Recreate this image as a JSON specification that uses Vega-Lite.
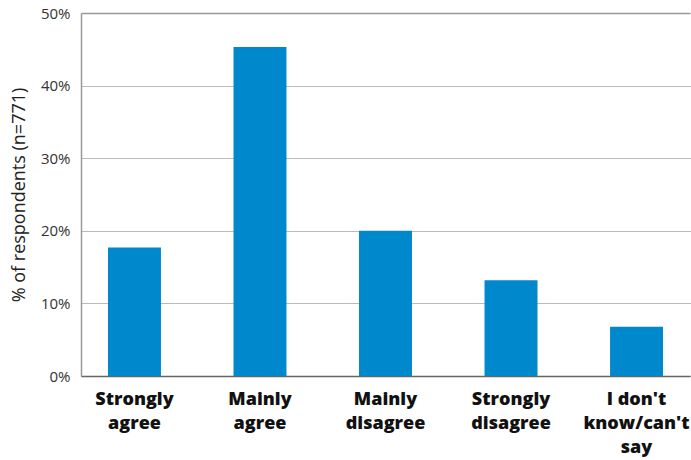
{
  "$schema": "https://vega.github.io/schema/vega-lite/v6.json",
  "width": 609,
  "height": 363,
  "autosize": {"type": "none"},
  "padding": {"left": 81, "top": 13, "right": 1, "bottom": 84},
  "background": "white",
  "config": {
    "font": "Open Sans",
    "view": {"stroke": null}
  },
  "data": {
    "values": [
      {"response": "Strongly|agree", "share": 0.177},
      {"response": "Mainly|agree", "share": 0.453},
      {"response": "Mainly|disagree", "share": 0.200},
      {"response": "Strongly|disagree", "share": 0.132},
      {"response": "I don't|know/can't|say", "share": 0.068}
    ]
  },
  "mark": {"type": "bar", "color": "#0088cc"},
  "encoding": {
    "x": {
      "field": "response",
      "type": "nominal",
      "sort": null,
      "scale": {"paddingInner": 0.578, "paddingOuter": 0.215},
      "axis": {
        "title": null,
        "labelAngle": 0,
        "labelExpr": "split(datum.label, '|')",
        "labelFont": "Open Sans",
        "labelFontWeight": 800,
        "labelFontSize": 18,
        "labelColor": "#111111",
        "labelLineHeight": 24,
        "labelPadding": 14,
        "ticks": false,
        "domainColor": "#666666",
        "domainWidth": 1.5,
        "labelLimit": 200
      }
    },
    "y": {
      "field": "share",
      "type": "quantitative",
      "scale": {"domain": [0, 0.5], "nice": false},
      "axis": {
        "title": "% of respondents (n=771)",
        "titleFont": "Open Sans",
        "titleFontWeight": "normal",
        "titleFontSize": 18,
        "titleColor": "#222222",
        "titlePadding": 12,
        "format": ".0%",
        "values": [0, 0.1, 0.2, 0.3, 0.4, 0.5],
        "labelFont": "Open Sans",
        "labelFontSize": 15,
        "labelColor": "#333333",
        "labelPadding": 11,
        "ticks": false,
        "domainColor": "#999999",
        "domainWidth": 1.5,
        "grid": true,
        "gridColor": {"condition": {"test": "datum.value === 0.5", "value": "#999999"}, "value": "#777777"},
        "gridWidth": {"condition": {"test": "datum.value === 0.5", "value": 1.5}, "value": 1},
        "gridDash": {"condition": {"test": "datum.value === 0.5", "value": []}, "value": [1, 1]}
      }
    }
  }
}
